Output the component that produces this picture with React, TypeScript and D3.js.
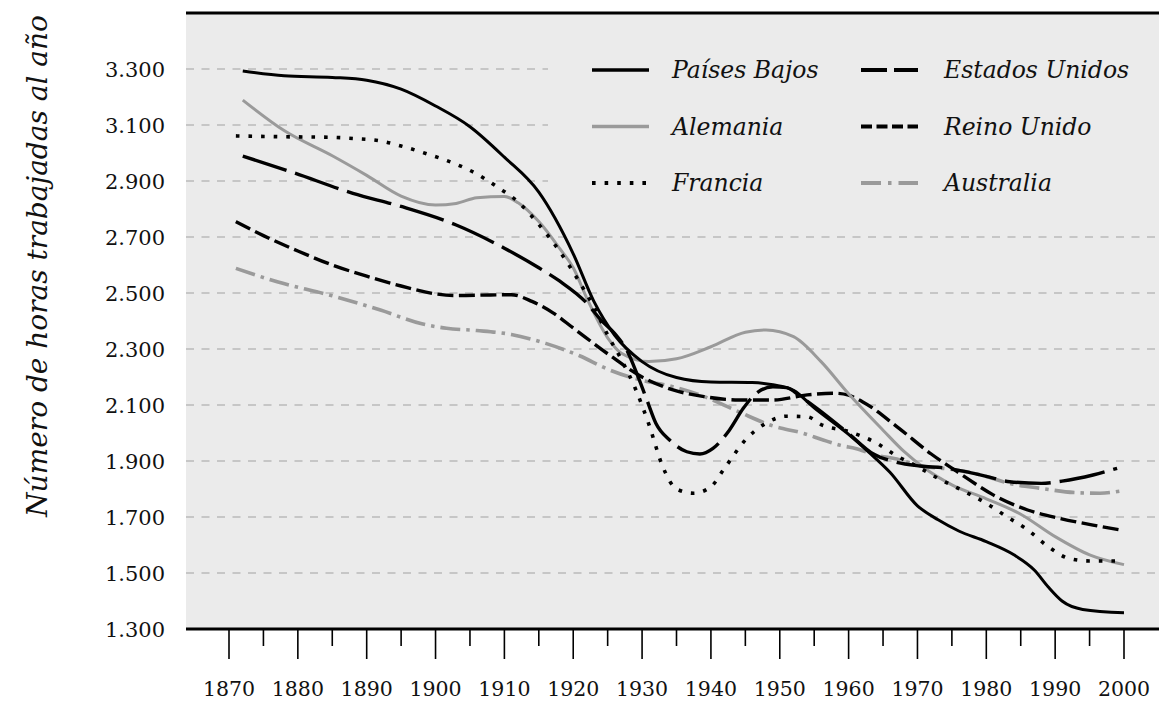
import React from 'react';
import * as d3 from 'd3';

const W = 1159;
const H = 703;

// ---------- DATA ----------
const seriesNames = ['Países Bajos', 'Alemania', 'Francia', 'Estados Unidos', 'Reino Unido', 'Australia'];

const pbYears = [1872, 1878, 1885, 1890, 1895, 1900, 1905, 1910, 1915, 1920, 1923, 1926, 1930, 1935, 1940, 1946, 1949, 1952, 1955, 1960, 1963, 1966, 1970, 1973, 1976, 1980, 1984, 1987, 1989, 1991, 1994, 2000];
const pbHours = [3293, 3276, 3270, 3260, 3228, 3168, 3094, 2985, 2860, 2640, 2470, 2350, 2255, 2198, 2182, 2180, 2172, 2152, 2090, 1995, 1930, 1860, 1740, 1690, 1650, 1612, 1565, 1510, 1450, 1400, 1370, 1358];

const deYears = [1872, 1878, 1885, 1890, 1895, 1900, 1903, 1906, 1910, 1912, 1915, 1918, 1920, 1922, 1925, 1927, 1931, 1935, 1940, 1945, 1948, 1952, 1956, 1960, 1965, 1968, 1971, 1975, 1980, 1985, 1990, 1995, 2000];
const deHours = [3189, 3080, 2990, 2920, 2846, 2814, 2820, 2840, 2845, 2822, 2755, 2660, 2590, 2480, 2340, 2285, 2255, 2265, 2308, 2360, 2368, 2344, 2255, 2140, 2010, 1935, 1875, 1815, 1765, 1710, 1630, 1565, 1530];

const frYears = [1871, 1878, 1885, 1888, 1892, 1895, 1899, 1903, 1906, 1909, 1912, 1915, 1918, 1921, 1923, 1925, 1927, 1929, 1931, 1933, 1935, 1937.5, 1940, 1942, 1945, 1948, 1951, 1954, 1956, 1960, 1964, 1967, 1970, 1973, 1976.5, 1980, 1983, 1986, 1989, 1992, 1995, 1999];
const frHours = [3061, 3058, 3056, 3052, 3043, 3025, 2995, 2960, 2925, 2878, 2825, 2745, 2650, 2535, 2450, 2350, 2262, 2160, 2030, 1880, 1800, 1785, 1808, 1875, 1975, 2035, 2060, 2058, 2030, 2005, 1965, 1918, 1880, 1838, 1795, 1749, 1701, 1654, 1594, 1552, 1543, 1543];

const usYears = [1872, 1879, 1888, 1895, 1903, 1910, 1915, 1918, 1922, 1924, 1926, 1928, 1929.2, 1930.7, 1932, 1934, 1936.5, 1938.4, 1940.3, 1942.7, 1944.7, 1946.6, 1949, 1951, 1953, 1955, 1960, 1963.6, 1966.5, 1970.4, 1974, 1977, 1980, 1983.4, 1988, 1991, 1995.5, 1999];
const usHours = [2989, 2933, 2856, 2809, 2743, 2660, 2590, 2543, 2463, 2404, 2356, 2285, 2215, 2118, 2035, 1975, 1933, 1925, 1945, 2011, 2088, 2142, 2165, 2162, 2130, 2095, 1998, 1925, 1898, 1882, 1875, 1862, 1845, 1826, 1820, 1828, 1850, 1874];

const ukYears = [1871, 1875, 1880, 1885, 1890, 1895, 1900, 1903, 1908, 1911, 1914, 1917, 1920, 1925, 1930, 1934.5, 1939, 1944, 1949, 1954, 1958, 1960, 1962, 1967, 1972, 1976.5, 1981, 1986, 1990.7, 1995.5, 1999.4];
const ukHours = [2755, 2705, 2650, 2600, 2560, 2525, 2497, 2491, 2493, 2494, 2470, 2430, 2375, 2283, 2200, 2154, 2130, 2118, 2118, 2136, 2142, 2135, 2112, 2023, 1925, 1850, 1779, 1725, 1695, 1671, 1654];

const auYears = [1871, 1877, 1885, 1892, 1898, 1901.6, 1906, 1911, 1916, 1921, 1925, 1930, 1934, 1939, 1944, 1949, 1953.4, 1956.3, 1959, 1961, 1964, 1967, 1971, 1974, 1977, 1980, 1983, 1988, 1993, 1996.5, 2000];
const auHours = [2588, 2540, 2490, 2439, 2390, 2374, 2366, 2352, 2320, 2275, 2228, 2188, 2168, 2130, 2076, 2025, 1999, 1975, 1955, 1945, 1921, 1907, 1880, 1873, 1862, 1845, 1822, 1802, 1787, 1785, 1795];

const yTicks = [1300, 1500, 1700, 1900, 2100, 2300, 2500, 2700, 2900, 3100, 3300];
const xTicks = [1870, 1880, 1890, 1900, 1910, 1920, 1930, 1940, 1950, 1960, 1970, 1980, 1990, 2000];
const xMinorTicks = [1875, 1885, 1895, 1905, 1915, 1925, 1935, 1945, 1955, 1965, 1975, 1985, 1995];

const yTitle = 'Número de horas trabajadas al año';

// ---------- STYLES ----------
const GRAY = '#9a9a9a';
const lineStyles = [
  { color: '#000', width: 3, dash: undefined, legendDash: undefined },
  { color: GRAY, width: 3, dash: undefined, legendDash: undefined },
  { color: '#000', width: 3.6, dash: '3.6,9', legendDash: '3.6,9' },
  { color: '#000', width: 3.4, dash: '46,9', legendDash: '26,7' },
  { color: '#000', width: 3.4, dash: '16,5.5', legendDash: '11,4.5' },
  { color: GRAY, width: 3.6, dash: '20,6,3.5,6', legendDash: '20,7,3.5,7' },
];

const SERIF = "'DejaVu Serif', Georgia, serif";

export default function App() {
  const plotLeft = 186;
  const plotRight = W;
  const plotTop = 13;
  const plotBottom = 629;

  const x = d3.scaleLinear().domain([1870, 2000]).range([229, 1124]);
  const y = d3.scaleLinear().domain([1300, 3500]).range([plotBottom, plotTop]);

  const fmt = d3.formatLocale({ decimal: ',', thousands: '.', grouping: [3], currency: ['', ''] }).format(',');

  const series = [
    [pbYears, pbHours],
    [deYears, deHours],
    [frYears, frHours],
    [usYears, usHours],
    [ukYears, ukHours],
    [auYears, auHours],
  ];

  const line = d3
    .line<[number, number]>()
    .x((d) => x(d[0]))
    .y((d) => y(d[1]))
    .curve(d3.curveMonotoneX);

  const drawOrder = [5, 4, 1, 2, 3, 0];

  return (
    <svg width={W} height={H} style={{ position: 'absolute', left: 0, top: 0, background: '#fff' }}>
      <rect x={plotLeft} y={plotTop} width={plotRight - plotLeft} height={plotBottom - plotTop} fill="#ebebeb" />
      {yTicks.slice(1).map((t) => (
        <line
          key={'g' + t}
          x1={plotLeft}
          x2={plotRight}
          y1={y(t)}
          y2={y(t)}
          stroke="#c6c6c6"
          strokeWidth={2}
          strokeDasharray="8,7.5"
        />
      ))}
      {/* legend box covering gridlines */}
      <rect x={548} y={plotTop + 2} width={plotRight - 548} height={200} fill="#ebebeb" />

      {drawOrder.map((i) => {
        const [ys, vs] = series[i];
        const pts = ys.map((yr, k) => [yr, vs[k]] as [number, number]);
        const st = lineStyles[i];
        return (
          <path
            key={seriesNames[i]}
            d={line(pts) || ''}
            fill="none"
            stroke={st.color}
            strokeWidth={st.width}
            strokeDasharray={st.dash}
          />
        );
      })}

      <line x1={plotLeft} x2={plotRight} y1={plotTop} y2={plotTop} stroke="#000" strokeWidth={3} />
      <line x1={plotLeft} x2={plotRight} y1={plotBottom} y2={plotBottom} stroke="#000" strokeWidth={3} />

      {xTicks.map((t) => (
        <line key={'t' + t} x1={x(t)} x2={x(t)} y1={plotBottom} y2={plotBottom + 30} stroke="#000" strokeWidth={1.6} />
      ))}
      {xMinorTicks.map((t) => (
        <line key={'m' + t} x1={x(t)} x2={x(t)} y1={plotBottom} y2={plotBottom + 17} stroke="#000" strokeWidth={1.6} />
      ))}
      {xTicks.map((t) => (
        <text key={'xl' + t} x={x(t)} y={696} textAnchor="middle" fontFamily={SERIF} fontSize={20.5} fill="#111">
          {t}
        </text>
      ))}
      {yTicks.map((t) => (
        <text key={'yl' + t} x={165} y={y(t) + 7.5} textAnchor="end" fontFamily={SERIF} fontSize={21} fill="#111">
          {fmt(t)}
        </text>
      ))}

      <text
        transform="translate(47,266) rotate(-90)"
        textAnchor="middle"
        fontFamily={SERIF}
        fontStyle="italic"
        fontSize={28}
        fill="#111"
      >
        {yTitle}
      </text>

      {seriesNames.map((name, i) => {
        const col = i < 3 ? 0 : 1;
        const row = i % 3;
        const sx = col === 0 ? 592 : 861;
        const tx = col === 0 ? 672 : 944;
        const ly = 70 + row * 56.5;
        const st = lineStyles[i];
        return (
          <g key={'lg' + name}>
            <line
              x1={sx}
              x2={sx + 57}
              y1={ly}
              y2={ly}
              stroke={st.color}
              strokeWidth={st.width + 0.4}
              strokeDasharray={st.legendDash}
            />
            <text x={tx} y={ly + 8} fontFamily={SERIF} fontStyle="italic" fontSize={23.5} fill="#111">
              {name}
            </text>
          </g>
        );
      })}
    </svg>
  );
}
